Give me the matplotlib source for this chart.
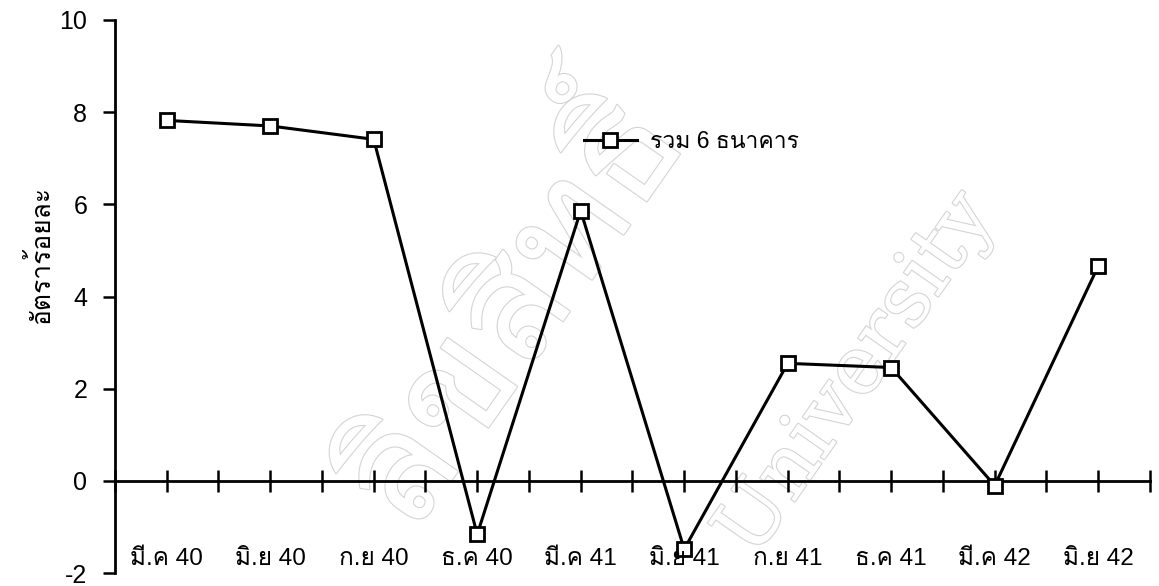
import matplotlib
matplotlib.use('Agg')
import matplotlib.pyplot as plt
import matplotlib.patheffects as pe
import numpy as np

# อัตราการเปลี่ยนแปลง (ร้อยละ) รายไตรมาส
periods = ['มี.ค 40', 'มิ.ย 40', 'ก.ย 40', 'ธ.ค 40', 'มี.ค 41',
           'มิ.ย 41', 'ก.ย 41', 'ธ.ค 41', 'มี.ค 42', 'มิ.ย 42']
rate = [7.82, 7.70, 7.41, -1.16, 5.86, -1.48, 2.55, 2.46, -0.10, 4.66]
series_name = 'รวม 6 ธนาคาร'
y_label = 'อัตราร้อยละ'
y_ticks = [-2, 0, 2, 4, 6, 8, 10]

# Liberation Sans for digits, Loma picks up the Thai glyphs
plt.rcParams['font.family'] = ['Liberation Sans', 'Loma', 'DejaVu Sans']
plt.rcParams['axes.unicode_minus'] = False

fig = plt.figure(figsize=(11.59, 5.86), dpi=100)
ax = fig.add_axes([0.0992, 0.022, 0.893, 0.944])

# faint scan watermark
wm = [pe.withStroke(linewidth=1.6, foreground='#d4d4d4')]
ax.text(0.44, 0.47, 'ลิขสิทธิ์', transform=fig.transFigure, rotation=55,
        fontsize=110, color='white', ha='center', va='center',
        path_effects=wm, zorder=0, family=['Loma', 'DejaVu Sans'])
ax.text(0.74, 0.36, 'University', transform=fig.transFigure, rotation=55,
        fontsize=58, color='white', ha='center', va='center',
        path_effects=wm, zorder=0, family=['DejaVu Serif'])

x = np.arange(len(periods))
line, = ax.plot(x, rate, color='black', lw=2.2, marker='s', ms=10,
                mfc='white', mec='black', mew=2, label=series_name,
                zorder=3, clip_on=False)

ax.set_xlim(-0.5, len(periods) - 0.5)
ax.set_ylim(-2, 10)
ax.set_facecolor('none')
for s in ['top', 'right']:
    ax.spines[s].set_visible(False)
ax.spines['bottom'].set_position(('data', 0))
ax.spines['left'].set_linewidth(2)
ax.spines['bottom'].set_linewidth(2)

ax.set_xticks(np.arange(-0.5, len(periods), 0.5))
ax.set_xticklabels([])
ax.tick_params(axis='x', direction='inout', length=16, width=1.8)
ax.set_yticks(y_ticks)
ax.tick_params(axis='y', direction='out', length=9, width=1.8,
               labelsize=18, pad=11)

for xi, lab in zip(x, periods):
    ax.text(xi, -1.82, lab, ha='center', va='baseline', fontsize=17.5)

fig.text(0.0345, 0.565, y_label, rotation=90, fontsize=19,
         ha='center', va='center')

ax.legend(handles=[line], loc='center left', bbox_to_anchor=(4.03, 7.37),
          bbox_transform=ax.transData, frameon=False, fontsize=16.5,
          handlelength=2.3, handletextpad=0.6, borderpad=0,
          borderaxespad=0, numpoints=1)

fig.savefig('out.png', dpi=100, facecolor='white')
